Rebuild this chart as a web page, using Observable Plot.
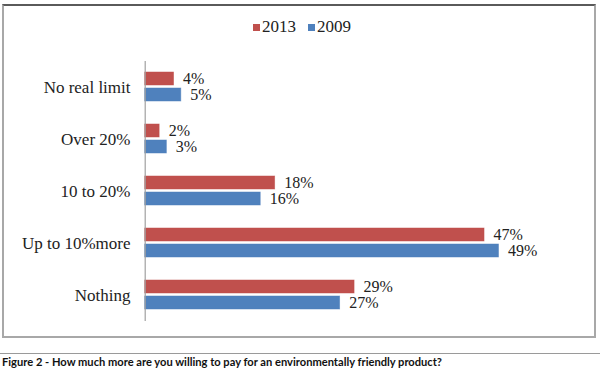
<!DOCTYPE html>
<html>
<head>
<meta charset="utf-8">
<script src="https://cdn.jsdelivr.net/npm/d3@7"></script>
<script src="https://cdn.jsdelivr.net/npm/@observablehq/plot@0.6"></script>
<style>
  body { margin: 0; background: #fff; }
  #wrap { position: relative; width: 600px; height: 373px; overflow: hidden; font-family: "Liberation Serif", "Times New Roman", serif; }
  #box { position: absolute; left: 2px; top: 4px; width: 594px; height: 334px; box-sizing: border-box;
         border: 2px solid #a8a8a8; border-top-color: #5a5a5a; }
  #chart { position: absolute; left: 0; top: 0; }
  #legend { position: absolute; top: 17px; left: 0; width: 600px; display: flex; justify-content: center; align-items: center;
            font-size: 17px; color: #222; padding-left: 4px; box-sizing: border-box; }
  .item { display: flex; align-items: center; }
  .item + .item { margin-left: 12px; }
  .sw { width: 7px; height: 7px; margin-right: 2px; }
  #rule { position: absolute; left: 0; top: 353px; width: 600px; height: 1px; background: #9a9a9a; }
  #caption { position: absolute; left: 2px; top: 355px; font-family: Lato, "Open Sans", sans-serif; font-weight: bold;
             font-size: 11px; color: #111; white-space: nowrap; transform-origin: 0 0; }
</style>
</head>
<body>
<div id="wrap">
  <div id="box"></div>
  <div id="legend"></div>
  <div id="chart"></div>
  <div id="rule"></div>
  <div id="caption"></div>
</div>
<script>
const categories = ["No real limit", "Over 20%", "10 to 20%", "Up to 10%more", "Nothing"];
const years = ["2013", "2009"];
const values2013 = [4, 2, 18, 47, 29];
const values2009 = [5, 3, 16, 49, 27];
const colors = ["#C0504D", "#4F81BD"];
const captionText = "Figure 2 - How much more are you willing to pay for an environmentally friendly product?";

const data = [];
categories.forEach((c, i) => {
  data.push({category: c, year: years[0], value: values2013[i]});
  data.push({category: c, year: years[1], value: values2009[i]});
});

const plot = Plot.plot({
  width: 600,
  height: 340,
  marginTop: 60,
  marginBottom: 18,
  marginLeft: 145,
  marginRight: 94,
  style: {fontFamily: "'Liberation Serif', 'Times New Roman', serif", fontSize: "17px", color: "#222", background: "transparent"},
  x: {domain: [0, 50], range: [144.7, 505.7], axis: null},
  fy: {domain: categories, padding: 0, label: null},
  y: {domain: years, paddingInner: 0.176, paddingOuter: 0.63, axis: null},
  color: {domain: years, range: colors},
  marks: [
    Plot.barX(data, {fy: "category", y: "year", x: "value", fill: "year", stroke: "year", strokeOpacity: 0.6, strokeWidth: 0.8}),
    Plot.text(data, {fy: "category", y: "year", x: "value", text: d => d.value + "%", textAnchor: "start", dx: 9, fill: "#222", fontSize: 16, lineHeight: 0.9}),
    Plot.ruleX([0], {stroke: "#a0a0a0", strokeWidth: 1.2}),
    Plot.axisFy({anchor: "left", tickSize: 0, tickPadding: 15, fontSize: 17, label: null, fill: "#222"})
  ]
});
document.getElementById("chart").appendChild(plot);

const legend = document.getElementById("legend");
years.forEach((y, i) => {
  const item = document.createElement("div");
  item.className = "item";
  const sw = document.createElement("div");
  sw.className = "sw";
  sw.style.background = colors[i];
  const t = document.createElement("span");
  t.textContent = y;
  item.appendChild(sw);
  item.appendChild(t);
  legend.appendChild(item);
});

const cap = document.getElementById("caption");
cap.textContent = captionText;
const w = cap.getBoundingClientRect().width;
cap.style.transform = `scaleX(${440 / w})`;
</script>
</body>
</html>
